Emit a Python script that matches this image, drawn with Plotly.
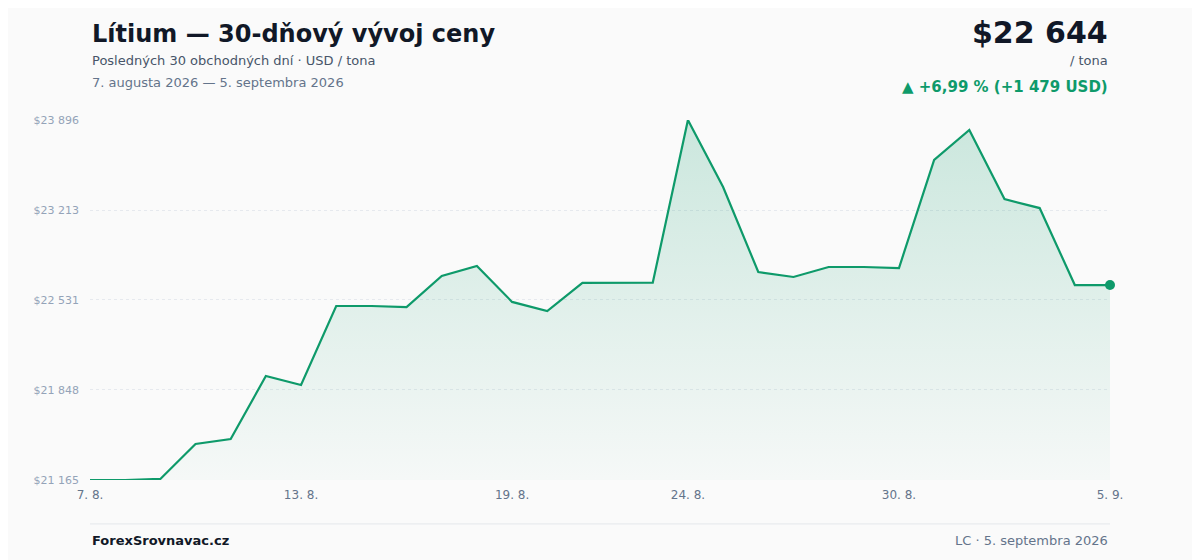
import plotly.graph_objects as go

dates = ["7. 8.", "8. 8.", "9. 8.", "10. 8.", "11. 8.", "12. 8.", "13. 8.", "14. 8.", "15. 8.", "16. 8.",
         "17. 8.", "18. 8.", "19. 8.", "20. 8.", "21. 8.", "22. 8.", "23. 8.", "24. 8.", "25. 8.", "26. 8.",
         "27. 8.", "28. 8.", "29. 8.", "30. 8.", "31. 8.", "1. 9.", "2. 9.", "3. 9.", "4. 9.", "5. 9."]
prices = [21165, 21165, 21173, 21438, 21476, 21954, 21886, 22485, 22485, 22477,
          22713, 22789, 22516, 22447, 22660, 22662, 22662, 23896, 23388, 22743,
          22705, 22781, 22781, 22773, 23593, 23820, 23296, 23228, 22644, 22644]
y_ticks = [21165, 21848, 22531, 23213, 23896]
y_labels = ["$21 165", "$21 848", "$22 531", "$23 213", "$23 896"]
x_tick_idx = [0, 6, 12, 17, 23, 29]

green = "#0e9a6a"
x = list(range(len(dates)))

fig = go.Figure()
fig.add_trace(go.Scatter(x=x, y=[min(prices)] * len(x), mode="lines",
                         line=dict(width=0), hoverinfo="skip", showlegend=False))
fig.add_trace(go.Scatter(
    x=x, y=prices, mode="lines", fill="tonexty",
    line=dict(color=green, width=2.2),
    fillgradient=dict(type="vertical", start=min(prices), stop=max(prices),
                      colorscale=[[0, "rgba(14,154,106,0.02)"], [1, "rgba(14,154,106,0.20)"]]),
    showlegend=False))
fig.add_trace(go.Scatter(x=[x[-1]], y=[prices[-1]], mode="markers",
                         marker=dict(color=green, size=10), showlegend=False,
                         cliponaxis=False))

fig.update_layout(
    width=1200, height=560, margin=dict(l=82, r=98, t=112, b=88),
    paper_bgcolor="#fafafa", plot_bgcolor="#fafafa",
    font=dict(family="DejaVu Sans", color="#64748b"),
    xaxis=dict(range=[0, 29], tickvals=[x[i] for i in x_tick_idx],
               ticktext=[dates[i] for i in x_tick_idx], showgrid=False,
               zeroline=False, tickfont=dict(size=12, color="#64748b"), ticklabelstandoff=6),
    yaxis=dict(range=[21165, 23896], tickvals=y_ticks, ticktext=y_labels,
               showgrid=True, gridcolor="#e6e9ee", griddash="dot", zeroline=False,
               tickfont=dict(size=11, color="#94a3b8"), ticklabelstandoff=10),
    shapes=[dict(type="line", xref="paper", yref="paper", x0=0, x1=1, y0=-0.122, y1=-0.122,
                 line=dict(color="#e5e7eb", width=1))],
    annotations=[
        dict(text="<b>Lítium — 30-dňový vývoj ceny</b>", x=0, y=1.239, xref="paper", yref="paper",
             xanchor="left", yanchor="middle", showarrow=False, font=dict(size=24, color="#111827")),
        dict(text="Posledných 30 obchodných dní · USD / tona", x=0, y=1.164, xref="paper", yref="paper",
             xanchor="left", yanchor="middle", showarrow=False, font=dict(size=13, color="#475569")),
        dict(text="7. augusta 2026 — 5. septembra 2026", x=0, y=1.103, xref="paper", yref="paper",
             xanchor="left", yanchor="middle", showarrow=False, font=dict(size=13, color="#64748b")),
        dict(text="<b>$22 644</b>", x=1, y=1.244, xref="paper", yref="paper",
             xanchor="right", yanchor="middle", showarrow=False, font=dict(size=30, color="#111827")),
        dict(text="/ tona", x=1, y=1.164, xref="paper", yref="paper",
             xanchor="right", yanchor="middle", showarrow=False, font=dict(size=13, color="#475569")),
        dict(text="<b>▲ +6,99 % (+1 479 USD)</b>", x=1, y=1.092, xref="paper", yref="paper",
             xanchor="right", yanchor="middle", showarrow=False, font=dict(size=15, color=green)),
        dict(text="<b>ForexSrovnavac.cz</b>", x=0, y=-0.169, xref="paper", yref="paper",
             xanchor="left", yanchor="middle", showarrow=False, font=dict(size=13, color="#111827")),
        dict(text="LC · 5. septembra 2026", x=1, y=-0.169, xref="paper", yref="paper",
             xanchor="right", yanchor="middle", showarrow=False, font=dict(size=13, color="#64748b")),
    ],
)
fig.write_html("out.html")
